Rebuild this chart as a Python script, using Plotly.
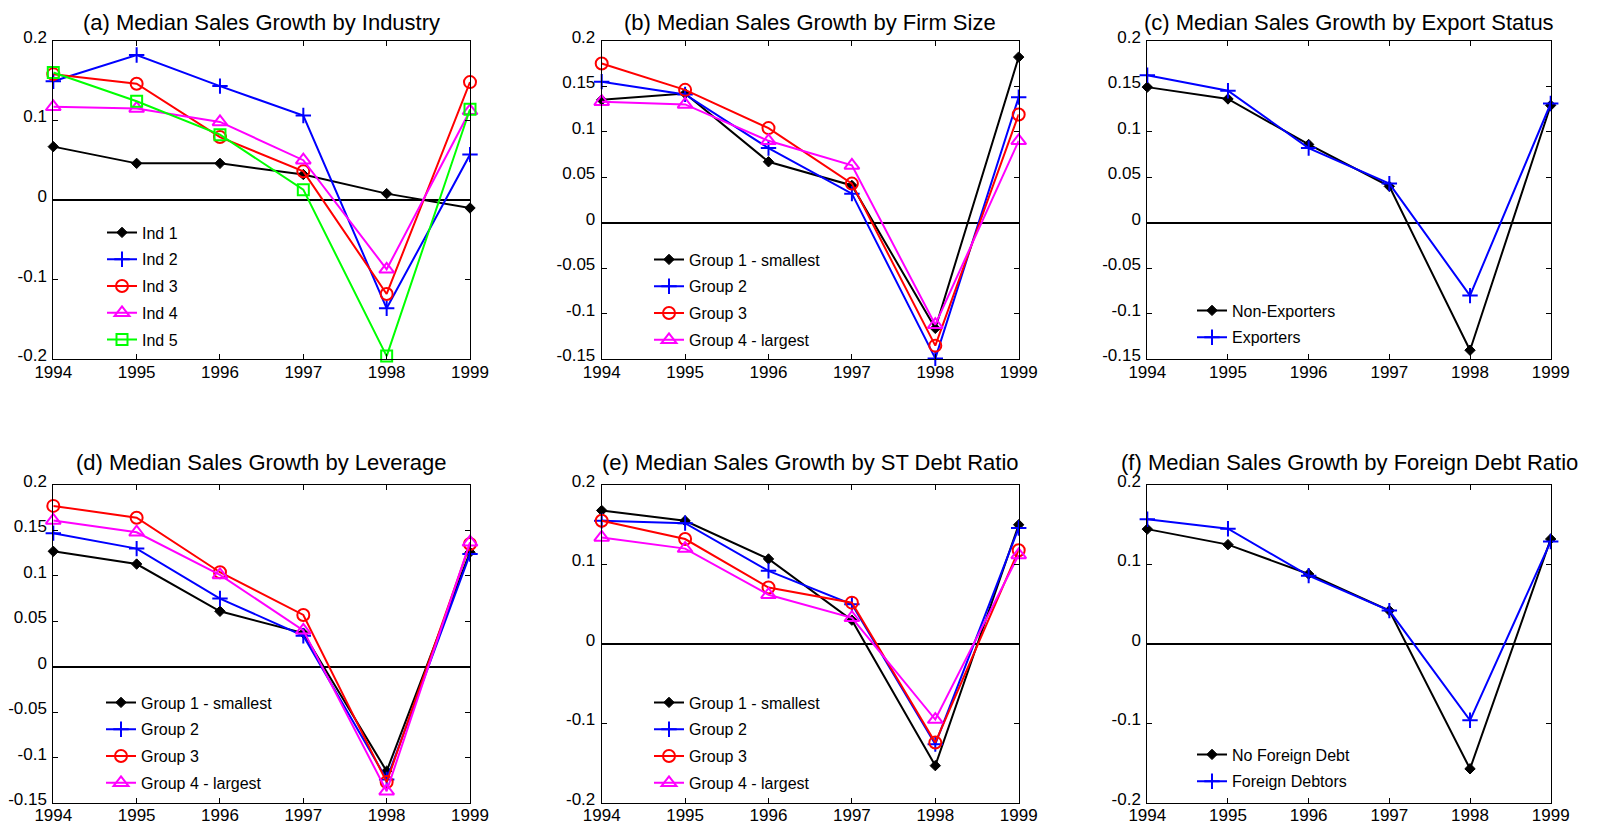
import plotly.graph_objects as go

# page body has an 8px margin: the figure starts at (8, 8) on screen.
# It is made 16px narrower (fits the width) and 8px shorter (its bottom
# runs to the window's bottom edge); positions below are screen pixels.
PAGE_W, PAGE_H, BODY = 1600, 825, 8
W, H = PAGE_W - 2 * BODY, PAGE_H - BODY

years = [1994, 1995, 1996, 1997, 1998, 1999]
year_labels = ["1994", "1995", "1996", "1997", "1998", "1999"]

# (a) by industry
a_ind1 = [0.067, 0.046, 0.046, 0.032, 0.008, -0.010]
a_ind2 = [0.149, 0.182, 0.143, 0.106, -0.136, 0.057]
a_ind3 = [0.158, 0.146, 0.079, 0.036, -0.118, 0.148]
a_ind4 = [0.117, 0.115, 0.098, 0.050, -0.087, 0.112]
a_ind5 = [0.160, 0.124, 0.082, 0.013, -0.196, 0.114]
a_names = ["Ind 1", "Ind 2", "Ind 3", "Ind 4", "Ind 5"]

# (b) by firm size
b_g1 = [0.135, 0.142, 0.067, 0.041, -0.116, 0.182]
b_g2 = [0.155, 0.141, 0.082, 0.032, -0.149, 0.138]
b_g3 = [0.175, 0.146, 0.104, 0.043, -0.135, 0.119]
b_g4 = [0.133, 0.130, 0.090, 0.063, -0.112, 0.090]
group_names = ["Group 1 - smallest", "Group 2", "Group 3", "Group 4 - largest"]

# (c) by export status
c_non = [0.149, 0.136, 0.086, 0.040, -0.140, 0.129]
c_exp = [0.162, 0.145, 0.082, 0.043, -0.080, 0.131]
c_names = ["Non-Exporters", "Exporters"]

# (d) by leverage
d_g1 = [0.127, 0.113, 0.061, 0.037, -0.115, 0.126]
d_g2 = [0.147, 0.130, 0.075, 0.034, -0.124, 0.124]
d_g3 = [0.177, 0.164, 0.104, 0.057, -0.127, 0.135]
d_g4 = [0.161, 0.148, 0.101, 0.040, -0.137, 0.137]

# (e) by ST debt ratio
e_g1 = [0.168, 0.155, 0.107, 0.030, -0.153, 0.150]
e_g2 = [0.155, 0.152, 0.092, 0.050, -0.126, 0.146]
e_g3 = [0.155, 0.132, 0.071, 0.052, -0.124, 0.118]
e_g4 = [0.134, 0.120, 0.062, 0.033, -0.095, 0.112]

# (f) by foreign debt ratio
f_no = [0.1445, 0.125, 0.088, 0.042, -0.157, 0.132]
f_fd = [0.157, 0.145, 0.086, 0.042, -0.096, 0.129]
f_names = ["No Foreign Debt", "Foreign Debtors"]

titles = [
    "(a) Median Sales Growth by Industry",
    "(b) Median Sales Growth by Firm Size",
    "(c) Median Sales Growth by Export Status",
    "(d) Median Sales Growth by Leverage",
    "(e) Median Sales Growth by ST Debt Ratio",
    "(f) Median Sales Growth by Foreign Debt Ratio",
]

ticks_wide = [-0.2, -0.1, 0, 0.1, 0.2]
ticks_wide_text = ["-0.2", "-0.1", "0", "0.1", "0.2"]
ticks_fine = [-0.15, -0.1, -0.05, 0, 0.05, 0.1, 0.15, 0.2]
ticks_fine_text = ["-0.15", "-0.1", "-0.05", "0", "0.05", "0.1", "0.15", "0.2"]

FONT = "Liberation Sans, Arial, Helvetica, sans-serif"

styles = [
    dict(color="#000000", symbol="diamond", size=8, filled=True),
    dict(color="#0000FF", symbol="cross-thin", size=11, filled=False),
    dict(color="#FF0000", symbol="circle-open", size=12, filled=False),
    dict(color="#FF00FF", symbol="triangle-up-open", size=13, filled=False),
    dict(color="#00FF00", symbol="square-open", size=11, filled=False),
]

# panel geometry in screen pixels
xpix = [(53.3, 470.0), (601.7, 1018.7), (1147.3, 1550.7)]
ypix = [(40.7, 359.3), (485.0, 803.0)]
title_gap = [18, 23]


def fx(px):
    return (px - BODY) / W


def fy(py):
    return 1 - (py - BODY) / H


# legend: (text left x, first row centre y) in screen pixels
panels = [
    dict(series=[a_ind1, a_ind2, a_ind3, a_ind4, a_ind5], names=a_names, styles=[0, 1, 2, 3, 4],
         yr=(-0.2, 0.2), tv=ticks_wide, tt=ticks_wide_text, leg=(140, 228)),
    dict(series=[b_g1, b_g2, b_g3, b_g4], names=group_names, styles=[0, 1, 2, 3],
         yr=(-0.15, 0.2), tv=ticks_fine, tt=ticks_fine_text, leg=(687, 255)),
    dict(series=[c_non, c_exp], names=c_names, styles=[0, 1],
         yr=(-0.15, 0.2), tv=ticks_fine, tt=ticks_fine_text, leg=(1230, 306)),
    dict(series=[d_g1, d_g2, d_g3, d_g4], names=group_names, styles=[0, 1, 2, 3],
         yr=(-0.15, 0.2), tv=ticks_fine, tt=ticks_fine_text, leg=(139, 698)),
    dict(series=[e_g1, e_g2, e_g3, e_g4], names=group_names, styles=[0, 1, 2, 3],
         yr=(-0.2, 0.2), tv=ticks_wide, tt=ticks_wide_text, leg=(687, 698)),
    dict(series=[f_no, f_fd], names=f_names, styles=[0, 1],
         yr=(-0.2, 0.2), tv=ticks_wide, tt=ticks_wide_text, leg=(1230, 750)),
]

fig = go.Figure()
layout = dict(
    template="none",
    width=W, height=H,
    margin=dict(l=0, r=0, t=0, b=0, autoexpand=False),
    paper_bgcolor="white", plot_bgcolor="white",
    font=dict(family=FONT, size=16, color="black"),
    annotations=[],
)

for i, p in enumerate(panels):
    r, c = divmod(i, 3)
    n = i + 1
    xs = "" if n == 1 else str(n)
    legname = "legend" if n == 1 else f"legend{n}"
    for k, (ys, nm) in enumerate(zip(p["series"], p["names"])):
        st = styles[p["styles"][k]]
        mk = dict(symbol=st["symbol"], size=st["size"], color=st["color"],
                  line=dict(width=2 if not st["filled"] else 1, color=st["color"]))
        fig.add_trace(go.Scatter(
            x=years, y=ys, name=nm, mode="lines+markers",
            line=dict(color=st["color"], width=2),
            marker=mk, cliponaxis=False,
            xaxis="x" + xs, yaxis="y" + xs,
            legend=legname, legendgroup=f"p{n}s{k}",
        ))
    x0, x1 = xpix[c]
    y0, y1 = ypix[r]
    axcommon = dict(showline=True, linecolor="black", linewidth=1, mirror="ticks",
                    ticks="inside", ticklen=5, tickcolor="black", tickwidth=1,
                    showgrid=False, automargin=False,
                    tickfont=dict(size=17, family=FONT, color="black"))
    layout["xaxis" + xs] = dict(
        domain=[fx(x0), fx(x1)], range=[1994, 1999], anchor="y" + xs,
        tickvals=years, ticktext=year_labels, zeroline=False,
        ticklabelstandoff=-3, **axcommon)
    layout["yaxis" + xs] = dict(
        domain=[fy(y1), fy(y0)], range=list(p["yr"]), anchor="x" + xs,
        tickvals=p["tv"], ticktext=p["tt"], zeroline=True, zerolinecolor="black",
        zerolinewidth=2, ticklabelstandoff=2, ticklabelshift=-4, **axcommon)
    lx, ly = p["leg"]
    layout[legname] = dict(
        x=fx(lx - 38), y=fy(ly - 12.5), xanchor="left", yanchor="top",
        bgcolor="rgba(0,0,0,0)", borderwidth=0, tracegroupgap=3,
        font=dict(size=16, family=FONT, color="black"),
    )
    layout["annotations"].append(dict(
        text=titles[i], xref="paper", yref="paper",
        x=fx((x0 + x1) / 2), y=fy(y0), xanchor="center", yanchor="middle",
        yshift=title_gap[r], showarrow=False, font=dict(size=22, family=FONT, color="black"),
    ))

fig.update_layout(**layout)
fig.update_layout(showlegend=True)
fig.write_html("out.html")
